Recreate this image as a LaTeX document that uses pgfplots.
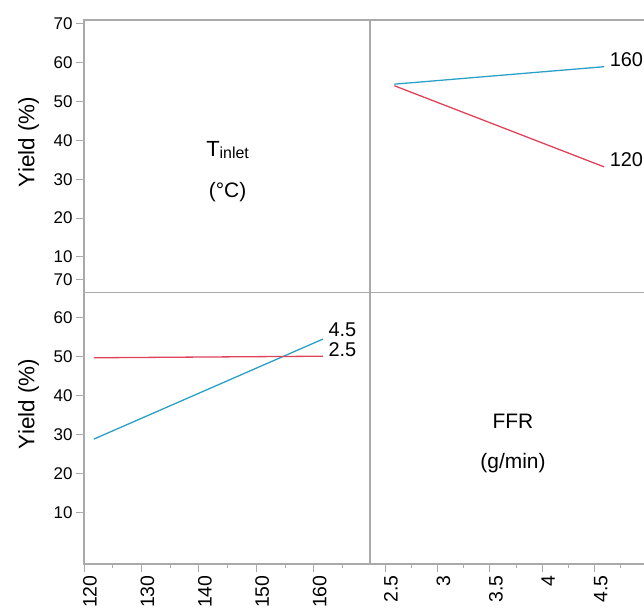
\documentclass[border=0pt]{standalone}
\usepackage{pgfplots}
\pgfplotsset{compat=1.18}
\usepackage{fontspec}
\setmainfont{Liberation Sans}
\definecolor{cblue}{HTML}{2A9FC8}
\definecolor{cred}{HTML}{E0425A}
\definecolor{cframe}{HTML}{AAAAAA}
\pgfplotsset{
  panel/.style={
    scale only axis, width=286bp, anchor=south west,
    axis line style={cframe, line width=1.1bp},
    every tick/.style={cframe, line width=1bp},
    major tick length=8bp, minor tick length=4.5bp,
    tick align=outside,
    ticklabel style={font=\fontsize{17}{17}\selectfont, text=black},
    /pgf/number format/assume math mode=true,
    clip=false,
    xtick pos=bottom, ytick pos=left,
  },
  rotx/.style={xticklabel style={rotate=90, anchor=east, yshift=-6bp, font=\fontsize{19.5}{19.5}\selectfont}},
}
\tikzset{
  dl/.style={line width=1.3bp},
  endlab/.style={anchor=west, font=\fontsize{20}{20}\selectfont, inner sep=0pt, text=black},
  itext/.style={font=\fontsize{21}{21}\selectfont},
}
\begin{document}
\begin{tikzpicture}[x=1bp,y=1bp]
\path[use as bounding box] (0,0) rectangle (644,610);
% top-left
\begin{axis}[panel, at={(84bp,317.3bp)}, height=272.7bp,
  xmin=120, xmax=169.8, ymin=0.8, ymax=71.03,
  xtick=\empty, ytick={10,20,...,70},
  extra y ticks={4.25}, extra y tick labels={70}]
  \node[itext] at (rel axis cs:0.502,0.523) {{\fontsize{22}{22}\selectfont T}\raisebox{-1.5bp}{\fontsize{16}{16}\selectfont inlet}};
  \node[itext] at (rel axis cs:0.502,0.368) {(°C)};
\end{axis}
% top-right
\begin{axis}[panel, at={(370bp,317.3bp)}, height=272.7bp,
  xmin=2.357, xmax=5.085, ymin=0.8, ymax=71.03,
  xtick=\empty, ytick=\empty]
  \addplot[dl, cblue] coordinates {(2.589,54.5) (4.59,59.0)}
    node[endlab, pos=1, xshift=5bp, yshift=7bp] {160};
  \addplot[dl, cred] coordinates {(2.589,54.1) (4.59,33.2)}
    node[endlab, pos=1, xshift=5bp, yshift=7bp] {120};
\end{axis}
% bottom-left
\begin{axis}[panel, rotx, at={(84bp,46bp)}, height=271.3bp,
  xmin=120, xmax=169.8, ymin=-3.28, ymax=66.42,
  xtick={120,130,...,160}, minor xtick={125,135,...,165},
  ytick={10,20,...,60}]
  \addplot[dl, cblue] coordinates {(121.7,28.8) (161.6,54.5)}
    node[endlab, pos=1, xshift=5bp, yshift=9bp] {4.5};
  \addplot[dl, cred] coordinates {(121.7,49.7) (161.6,50.1)}
    node[endlab, pos=1, xshift=5bp, yshift=7bp] {2.5};
\end{axis}
% bottom-right
\begin{axis}[panel, rotx, at={(370bp,46bp)}, height=271.3bp,
  xmin=2.357, xmax=5.085, ymin=-3.28, ymax=66.42,
  xtick={2.5,3,3.5,4,4.5}, xticklabels={2.5,3,3.5,4,4.5},
  minor xtick={2.75,3.25,3.75,4.25,4.75},
  ytick=\empty]
  \node[itext] at (rel axis cs:0.5,0.527) {FFR};
  \node[itext] at (rel axis cs:0.5,0.371) {(g/min)};
\end{axis}
\node[rotate=90, font=\fontsize{22.5}{22.5}\selectfont] at (28.5,468) {Yield (\%)};
\node[rotate=90, font=\fontsize{22.5}{22.5}\selectfont] at (28.5,206) {Yield (\%)};
\end{tikzpicture}
\end{document}
